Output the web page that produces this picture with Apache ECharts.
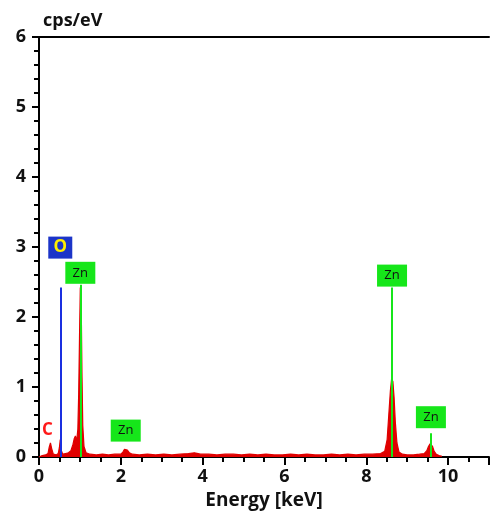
<!DOCTYPE html>
<html lang="en">
<head>
    <meta charset="UTF-8">
    <title>EDS spectrum</title>
    <style>
        html, body { margin: 0; padding: 0; background: #fff; }
        #container { width: 492px; height: 515px; }
    </style>
</head>
<body>
    <div id="container"></div>
    <script type="text/javascript" src="https://cdn.jsdelivr.net/npm/echarts@6/dist/echarts.min.js"></script>
    <script>
        // spectrum (keV, cps/eV)
        var energy = [0.00, 0.08, 0.16, 0.22, 0.25, 0.28, 0.31, 0.35, 0.42, 0.47, 0.50, 0.52, 0.54, 0.58, 0.65, 0.72, 0.78, 0.83, 0.86, 0.89, 0.92, 0.95, 0.97, 0.99, 1.01, 1.03, 1.05, 1.07, 1.10, 1.15, 1.25, 1.40, 1.55, 1.70, 1.85, 2.00, 2.05, 2.09, 2.12, 2.16, 2.21, 2.28, 2.45, 2.65, 2.85, 3.05, 3.25, 3.45, 3.65, 3.80, 3.95, 4.15, 4.35, 4.55, 4.75, 4.95, 5.15, 5.35, 5.55, 5.75, 5.95, 6.15, 6.35, 6.55, 6.75, 6.95, 7.15, 7.35, 7.55, 7.75, 7.95, 8.15, 8.35, 8.45, 8.51, 8.55, 8.59, 8.62, 8.65, 8.68, 8.71, 8.75, 8.80, 8.88, 9.00, 9.15, 9.30, 9.42, 9.48, 9.52, 9.56, 9.59, 9.62, 9.66, 9.71, 9.78, 9.85];
        var cps = [0.00, 0.02, 0.03, 0.05, 0.14, 0.20, 0.12, 0.04, 0.03, 0.05, 0.14, 0.25, 0.10, 0.04, 0.05, 0.06, 0.09, 0.18, 0.26, 0.30, 0.22, 0.40, 0.90, 1.70, 2.42, 2.30, 1.20, 0.45, 0.15, 0.06, 0.04, 0.03, 0.04, 0.03, 0.04, 0.04, 0.07, 0.11, 0.13, 0.10, 0.06, 0.04, 0.03, 0.04, 0.03, 0.04, 0.03, 0.04, 0.05, 0.06, 0.04, 0.04, 0.03, 0.04, 0.04, 0.03, 0.04, 0.03, 0.04, 0.03, 0.03, 0.04, 0.03, 0.04, 0.03, 0.03, 0.04, 0.03, 0.04, 0.03, 0.04, 0.04, 0.05, 0.08, 0.25, 0.60, 0.95, 1.12, 1.08, 0.85, 0.50, 0.20, 0.07, 0.04, 0.03, 0.03, 0.04, 0.05, 0.09, 0.15, 0.19, 0.20, 0.15, 0.08, 0.04, 0.02, 0.01];

        // element marker lines: energy and top of line
        var lineElements = ['O', 'Zn', 'Zn', 'Zn'];
        var lineEnergy = [0.52, 1.01, 8.63, 9.58];
        var lineTop = [2.42, 2.46, 2.42, 0.34];

        // labels without a line (anchored on the peak)
        var peakLabels = ['C', 'Zn'];
        var peakEnergy = [0.28, 2.12];
        var peakTop = [0.20, 0.12];

        var xTicks = [0, 2, 4, 6, 8, 10];
        var yTicks = [0, 1, 2, 3, 4, 5, 6];

        var red = '#e00000';
        var green = '#16e61a';
        var fontFam = '"Open Sans", "DejaVu Sans", sans-serif';

        var spectrum = energy.map(function (e, i) { return [e, cps[i]]; });

        function boxMark(text, x, y, offY) {
            var isO = text === 'O';
            return {
                coord: [x, y],
                symbol: 'rect',
                symbolSize: isO ? [24, 22] : [30, 22],
                symbolOffset: [0, offY],
                itemStyle: { color: isO ? '#1c35c8' : green },
                label: {
                    show: true,
                    position: 'inside',
                    formatter: text,
                    color: isO ? '#ffee00' : '#111',
                    fontSize: isO ? 17 : 13,
                    fontWeight: isO ? 'bold' : 'normal',
                    fontFamily: fontFam
                }
            };
        }

        var marks = [];
        var vlines = [];
        lineElements.forEach(function (el, i) {
            var col = el === 'O' ? '#1a2fe0' : green;
            vlines.push([
                { coord: [lineEnergy[i], 0], lineStyle: { color: col, width: 2, type: 'solid' } },
                { coord: [lineEnergy[i], lineTop[i]] }
            ]);
            var off = el === 'O' ? -40 : (lineTop[i] < 1 ? -16 : -12);
            marks.push(boxMark(el, lineEnergy[i], lineTop[i], off));
        });
        peakLabels.forEach(function (el, i) {
            if (el === 'C') {
                marks.push({
                    coord: [peakEnergy[i], peakTop[i]],
                    symbol: 'rect',
                    symbolSize: 1,
                    symbolOffset: [-3, -13],
                    itemStyle: { color: 'rgba(0,0,0,0)' },
                    label: {
                        show: true, position: 'inside', formatter: 'C',
                        color: '#ff1a1a', fontSize: 17, fontWeight: 'bold', fontFamily: fontFam
                    }
                });
            } else {
                marks.push(boxMark(el, peakEnergy[i], peakTop[i], -18));
            }
        });

        var myChart = echarts.init(document.getElementById('container'));
        var axisText = { color: '#111', fontSize: 18, fontWeight: 'bold', fontFamily: fontFam };

        var option = {
            animation: false,
            grid: { left: 39, right: 2, top: 37, bottom: 58 },
            xAxis: [{
                type: 'value',
                min: 0,
                max: 11,
                interval: 2,
                name: 'Energy [keV]',
                nameLocation: 'middle',
                nameGap: 32,
                nameTextStyle: Object.assign({}, axisText, { fontSize: 19 }),
                axisLine: { lineStyle: { color: '#000', width: 2 } },
                axisTick: { length: 8, lineStyle: { color: '#000', width: 2 } },
                minorTick: { show: true, splitNumber: 4, length: 5, lineStyle: { color: '#000', width: 2 } },
                axisLabel: Object.assign({ margin: 11, formatter: function (v) { return xTicks.indexOf(v) >= 0 ? v : ''; } }, axisText),
                splitLine: { show: false }
            }, {
                type: 'value',
                position: 'top',
                min: 0,
                max: 11,
                axisLine: { show: true, lineStyle: { color: '#000', width: 2 } },
                axisTick: { show: false },
                axisLabel: { show: false },
                splitLine: { show: false }
            }],
            yAxis: {
                type: 'value',
                min: 0,
                max: 6,
                interval: 1,
                name: 'cps/eV',
                nameLocation: 'end',
                nameGap: 7,
                nameTextStyle: Object.assign({ align: 'left', padding: [0, 0, 0, 4] }, axisText, { fontSize: 18 }),
                axisLine: { lineStyle: { color: '#000', width: 2 } },
                axisTick: { length: 7, lineStyle: { color: '#000', width: 2 } },
                minorTick: { show: true, splitNumber: 5, length: 5, lineStyle: { color: '#000', width: 2 } },
                axisLabel: Object.assign({ margin: 13, formatter: function (v) { return yTicks.indexOf(v) >= 0 ? v : ''; } }, axisText),
                splitLine: { show: false }
            },
            series: [{
                type: 'line',
                data: spectrum,
                showSymbol: false,
                lineStyle: { color: red, width: 1.2 },
                areaStyle: { color: red, opacity: 1 },
                z: 2
            }, {
                type: 'line',
                data: [],
                z: 3,
                markLine: {
                    silent: true,
                    symbol: 'none',
                    label: { show: false },
                    data: vlines
                },
                markPoint: {
                    silent: true,
                    data: marks
                }
            }]
        };

        myChart.setOption(option);
    </script>
</body>
</html>
